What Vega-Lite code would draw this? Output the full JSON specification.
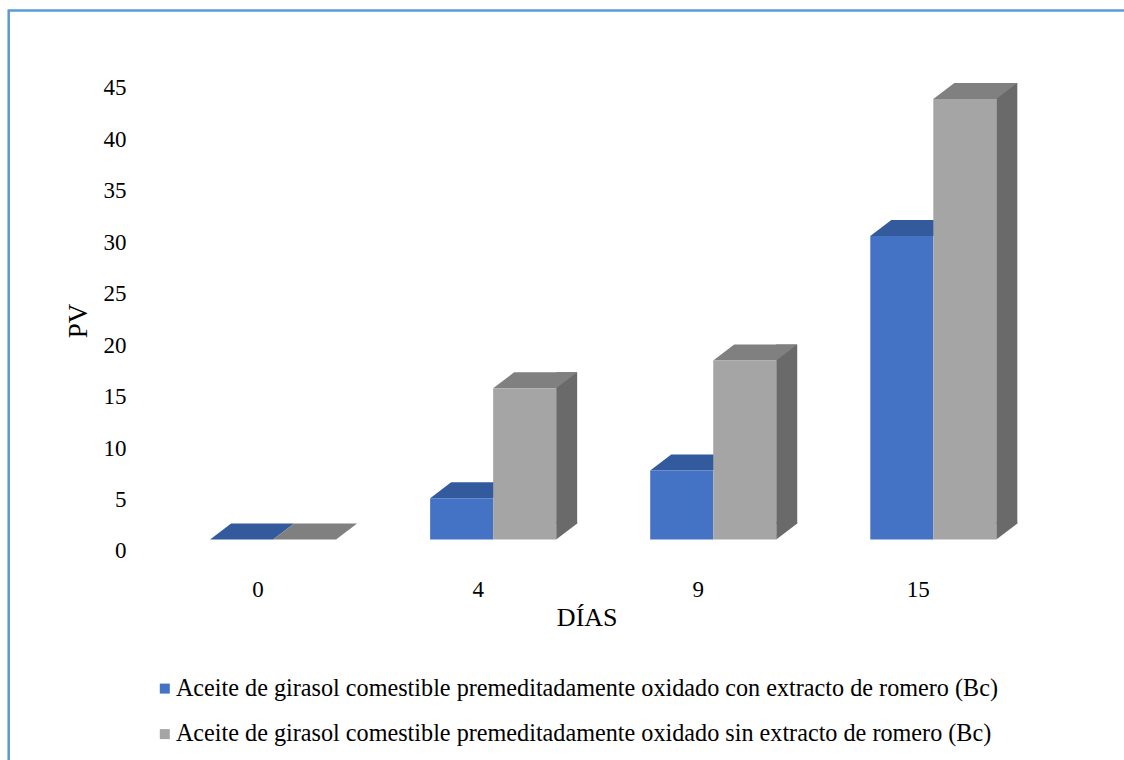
{
  "$schema": "https://vega.github.io/schema/vega-lite/v6.json",
  "width": 1189,
  "height": 760,
  "autosize": {"type": "none"},
  "padding": {"left": 8.7, "top": 10.5, "right": -73.7, "bottom": -10.5},
  "background": "white",
  "config": {
    "font": "Liberation Serif",
    "view": {"stroke": "#5B9BD5", "strokeWidth": 2.5},
    "axis": {
      "grid": false, "domain": false, "ticks": false, "tickSize": 0,
      "labelFont": "Liberation Serif, Times New Roman, serif", "labelFontSize": 23, "labelColor": "#000000",
      "titleFont": "Liberation Serif, Times New Roman, serif", "titleFontSize": 26, "titleFontWeight": "normal", "titleColor": "#000000"
    },
    "legend": {"labelFont": "Liberation Serif, Times New Roman, serif"}
  },
  "data": {
    "values": [
      {"dia": "0", "serie": "Aceite de girasol comestible premeditadamente oxidado con extracto de romero (Bc)", "pv": 0},
      {"dia": "0", "serie": "Aceite de girasol comestible premeditadamente oxidado sin extracto de romero (Bc)", "pv": 0},
      {"dia": "4", "serie": "Aceite de girasol comestible premeditadamente oxidado con extracto de romero (Bc)", "pv": 4.0},
      {"dia": "4", "serie": "Aceite de girasol comestible premeditadamente oxidado sin extracto de romero (Bc)", "pv": 14.7},
      {"dia": "9", "serie": "Aceite de girasol comestible premeditadamente oxidado con extracto de romero (Bc)", "pv": 6.7},
      {"dia": "9", "serie": "Aceite de girasol comestible premeditadamente oxidado sin extracto de romero (Bc)", "pv": 17.4},
      {"dia": "15", "serie": "Aceite de girasol comestible premeditadamente oxidado con extracto de romero (Bc)", "pv": 29.5},
      {"dia": "15", "serie": "Aceite de girasol comestible premeditadamente oxidado sin extracto de romero (Bc)", "pv": 42.8}
    ]
  },
  "encoding": {
    "x": {
      "field": "dia", "type": "nominal", "sort": ["0", "4", "9", "15"],
      "scale": {"paddingInner": 0.4273, "paddingOuter": 0.915},
      "axis": {
        "orient": "bottom", "offset": -195, "labelAngle": 0, "labelOffset": -15, "labelPadding": 3,
        "labelFont": "Liberation Serif, Times New Roman, serif", "labelFontSize": 23,
        "title": "DÍAS", "titleX": 578, "titleY": 42, "titleAlign": "center", "titleBaseline": "middle"
      }
    },
    "y": {
      "field": "pv", "type": "quantitative",
      "scale": {"domain": [-22.449, 51.409], "nice": false, "zero": false},
      "axis": {
        "values": [0, 5, 10, 15, 20, 25, 30, 35, 40, 45],
        "offset": -117.3, "labelPadding": 0, "labelOffset": 11.5,
        "labelFont": "Liberation Serif, Times New Roman, serif", "labelFontSize": 23,
        "title": "PV", "titleFontSize": 27, "titleX": -48, "titleY": 310, "titleAngle": 270,
        "titleAlign": "center", "titleBaseline": "middle"
      }
    }
  },
  "layer": [
    {
      "transform": [{"filter": "indexof(datum.serie, ' sin ') >= 0 && datum.pv > 0"}],
      "mark": {"type": "bar", "width": 21, "xOffset": 73.5, "yOffset": -16, "y2Offset": -16},
      "encoding": {
        "y2": {"datum": 0},
        "color": {"value": "#6A6A6A"}
      }
    },
    {
      "transform": [{"filter": "indexof(datum.serie, ' sin ') >= 0 && datum.pv > 0"}],
      "mark": {"type": "point", "shape": "M63,0L63,-17.5L84,-17.5L84,-16Z", "size": 4, "filled": true, "opacity": 1, "strokeWidth": 0},
      "encoding": {
        "y": {"datum": 0},
        "color": {"value": "#6A6A6A"}
      }
    },
    {
      "mark": {"type": "point", "shape": "M-31.5,0L31.5,0L52.5,-16L-10.5,-16Z", "size": 4, "filled": true, "opacity": 1, "strokeWidth": 0},
      "encoding": {
        "xOffset": {
          "field": "serie", "type": "nominal",
          "scale": {"paddingInner": 0, "paddingOuter": 0}
        },
        "color": {
          "condition": {"test": "indexof(datum.serie, ' con ') >= 0", "value": "#325A9C"},
          "value": "#808080"
        }
      }
    },
    {
      "mark": {"type": "bar"},
      "encoding": {
        "xOffset": {
          "field": "serie", "type": "nominal",
          "scale": {"paddingInner": 0, "paddingOuter": 0}
        },
        "y2": {"datum": 0},
        "color": {
          "field": "serie", "type": "nominal",
          "scale": {
            "domain": [
              "Aceite de girasol comestible premeditadamente oxidado con extracto de romero (Bc)",
              "Aceite de girasol comestible premeditadamente oxidado sin extracto de romero (Bc)"
            ],
            "range": ["#4472C4", "#A5A5A5"]
          },
          "legend": {
            "orient": "none", "legendX": 144, "legendY": 666, "direction": "vertical",
            "title": null, "symbolType": "square", "symbolSize": 100, "symbolStrokeWidth": 0,
            "labelFont": "Liberation Serif, Times New Roman, serif", "labelFontSize": 24.2, "labelColor": "#000000",
            "labelLimit": 2000, "rowPadding": 20.5, "labelOffset": -1, "padding": 0
          }
        }
      }
    }
  ]
}
